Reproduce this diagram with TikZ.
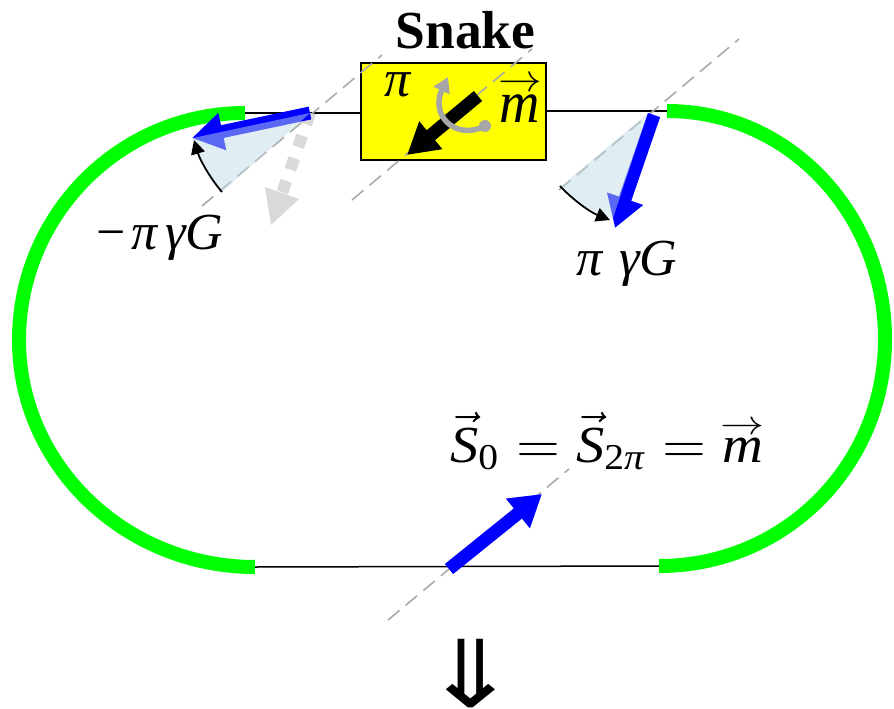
\documentclass[tikz,border=0pt]{standalone}
\usepackage{amsmath}
\usepackage{graphicx}
\usepackage{fontspec}
\setmainfont{Liberation Serif}
\newfontfamily\arrowfont{DejaVu Sans}
\usetikzlibrary{arrows.meta,calc}
\definecolor{ringgreen}{RGB}{0,255,0}
\definecolor{spinblue}{RGB}{0,0,255}
\definecolor{wedgefill}{RGB}{190,220,230}
\definecolor{axisgray}{RGB}{170,170,170}
\definecolor{ghost}{RGB}{217,217,217}
\definecolor{rotgray}{RGB}{166,166,166}
\definecolor{boxyellow}{RGB}{255,255,0}
\newcommand{\mvec}{\text{\rlap{\raisebox{0.52em}{\makebox[0.72em][c]{\resizebox{0.78em}{0.24em}{$\rightarrow$}}}}\itshape m}}
\tikzset{
  x=1pt,y=-1pt,
  beam/.style={line width=1.5pt,black},
  ring/.style={line width=14pt,ringgreen},
  axis/.style={line width=1.6pt,axisgray,dash pattern=on 15pt off 8pt},
  spin/.style={line width=13pt,spinblue,-{Triangle[length=31pt,width=36pt]}},
  wedge/.style={fill=wedgefill,fill opacity=0.475,draw=none},
  angle/.style={line width=1.8pt,black,-{Triangle[length=14pt,width=14pt]}},
  lab/.style={inner sep=0pt,font=\fontsize{52}{52}\selectfont},
  snakebox/.style={draw=black,line width=1.5pt,fill=boxyellow,minimum width=185pt,minimum height=97pt,inner sep=0pt}
}
\begin{document}
\begin{tikzpicture}
\useasboundingbox (0,0) rectangle (894,709);
% ring
\coordinate (LT) at (245,113);
\coordinate (LB) at (255,567);
\coordinate (RT) at (667,111);
\coordinate (RB) at (659,566);
\draw[ring] (LT) .. controls (120,113) and (19,215) .. (19,340) .. controls (19,465) and (125,567) .. (LB);
\draw[ring] (RT) .. controls (790,111) and (885,215) .. (885,339) .. controls (885,465) and (785,566) .. (RB);
% snake box
\node[snakebox] (snake) at (453.5,111.5) {};
\draw[beam] (LT) -- (snake.west |- LT);
\draw[beam] (snake.east |- RT) -- (RT);
\draw[beam] (LB) -- (RB);
% axes
\coordinate (a1) at (202,206); \coordinate (a2) at (382,55);
\coordinate (b1) at (352,200); \coordinate (b2) at (532,49);
\coordinate (c1) at (559,190); \coordinate (c2) at (739,39);
\coordinate (d1) at (388,620); \coordinate (d2) at (569,469);
\draw[axis] (a1) -- (a2);
\draw[axis] (b1) -- (b2);
\draw[axis] (c1) -- (c2);
\draw[axis] (d1) -- (d2);
% left spin
\coordinate (Ltail) at (310,113);
\coordinate (Ltip) at (192,138);
\coordinate (Lghost) at (271,225);
\draw[line width=12pt,ghost,dash pattern=on 12pt off 12pt] (Ltail) -- ($(Ltail)!0.71!(Lghost)$);
\fill[ghost] (Lghost) -- (265,187) -- (299,199) -- cycle;
\draw[spin] (Ltail) -- (Ltip);
\fill[wedge] (Ltail) -- (193,138) .. controls (200,160) and (210,178) .. (222,192) -- cycle;
\draw[angle] (222,192) .. controls (210,178) and (200,160) .. (194,140);
% right spin
\coordinate (Rtail) at (654,115);
\coordinate (Rtip) at (615,228);
\draw[spin] (Rtail) -- (Rtip);
\fill[wedge] (648,113) -- (560,187) .. controls (575,203) and (592,213) .. (613,218) -- cycle;
\draw[angle] (560,186) .. controls (573,200) and (590,212) .. (610,220);
% snake spin
\coordinate (Stail) at (478,96);
\coordinate (Stip) at (407,155);
\draw[spin,black,-{Triangle[length=31pt,width=34pt]}] (Stail) -- (Stip);
% rotation arrow
\coordinate (Rdot) at (485,126);
\coordinate (Rend) at (448,77);
\fill[rotgray] (Rdot) circle (6pt);
\draw[line width=5.5pt,rotgray,-{Triangle[length=15pt,width=17pt]}] (Rdot) .. controls (455,141) and (430,115) .. (Rend);
% bottom spin
\coordinate (Btail) at (449,569);
\coordinate (Btip) at (542,494);
\draw[spin] (Btail) -- (Btip);
% text
\node[inner sep=0pt,font=\fontsize{53.5}{53.5}\bfseries\selectfont] (title) at (465.5,30) {Snake};
\node[lab] (pi1) at (398,85) {\itshape π};
\node[inner sep=0pt,anchor=base] (m1) at (520,122) {\scalebox{5.6}[5.9]{$\mvec$}};
\node[lab,anchor=center] (lminus) at (160,238) {−\hspace{5pt}\itshape π\hspace{8pt}γG};
\node[lab,anchor=center] (lplus) at (627,264) {\itshape π\hspace{4pt} γG};
\node[inner sep=0pt,anchor=base] (eqn) at (606.5,462) {\scalebox{5.65}[5.2]{$\vec{\text{\itshape S}}_{\text{0}} = \vec{\text{\itshape S}}_{\text{2\itshape π}} = \mvec$}};
\node[inner sep=0pt,font=\fontsize{72}{72}\arrowfont\selectfont] (down) at (471,674) {\scalebox{1.6}[1.3]{⇓}};
\end{tikzpicture}
\end{document}
